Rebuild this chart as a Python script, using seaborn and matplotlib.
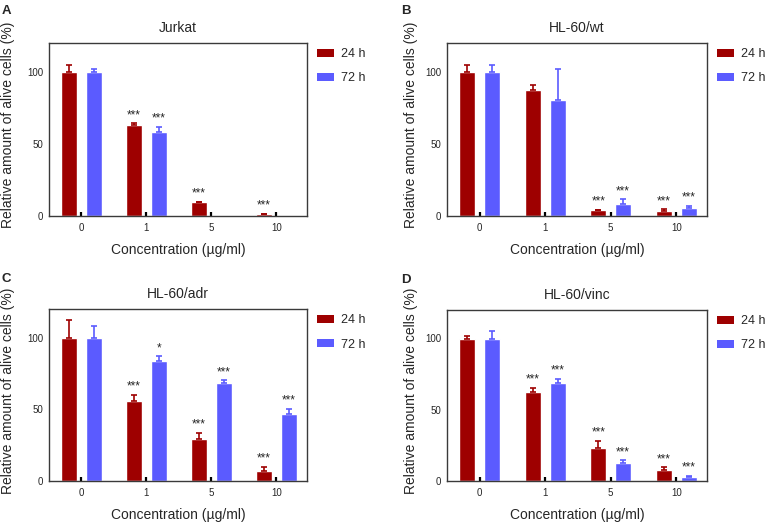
import numpy as np
import pandas as pd
import matplotlib
matplotlib.use("Agg")
import matplotlib.pyplot as plt
import seaborn as sns
from matplotlib.patches import Patch

# data
conc_labels = ["0", "1", "5", "10"]
time_labels = ["24 h", "72 h"]
panel_letters = ["A", "B", "C", "D"]
panel_titles = ["Jurkat", "HL-60/wt", "HL-60/adr", "HL-60/vinc"]

jurkat_24 = [100, 63.3, 9.5, 1.2]
jurkat_24_err = [4.4, 1.0, 0.5, 0.3]
jurkat_72 = [100, 58.0, 0, 0]
jurkat_72_err = [2.3, 4.0, 0, 0]
jurkat_24_sig = ["", "***", "***", "***"]
jurkat_72_sig = ["", "***", "", ""]

wt_24 = [100, 87.2, 3.9, 3.7]
wt_24_err = [4.4, 3.7, 0.4, 0.9]
wt_72 = [100, 80.7, 8.4, 5.6]
wt_72_err = [4.5, 21.0, 3.2, 1.6]
wt_24_sig = ["", "", "***", "***"]
wt_72_sig = ["", "", "***", "***"]

adr_24 = [100, 56.0, 29.3, 7.0]
adr_24_err = [12.0, 4.0, 4.4, 3.0]
adr_72 = [100, 83.5, 68.4, 46.7]
adr_72_err = [8.0, 3.5, 2.0, 3.5]
adr_24_sig = ["", "***", "***", "***"]
adr_72_sig = ["", "*", "***", "***"]

vinc_24 = [100, 62.6, 23.3, 7.4]
vinc_24_err = [2.0, 2.8, 4.8, 2.1]
vinc_72 = [100, 68.8, 12.3, 2.6]
vinc_72_err = [5.0, 2.8, 2.1, 0.9]
vinc_24_sig = ["", "***", "***", "***"]
vinc_72_sig = ["", "***", "***", "***"]

panels = [
    (jurkat_24, jurkat_24_err, jurkat_24_sig, jurkat_72, jurkat_72_err, jurkat_72_sig),
    (wt_24, wt_24_err, wt_24_sig, wt_72, wt_72_err, wt_72_sig),
    (adr_24, adr_24_err, adr_24_sig, adr_72, adr_72_err, adr_72_sig),
    (vinc_24, vinc_24_err, vinc_24_sig, vinc_72, vinc_72_err, vinc_72_sig),
]

colors = ["#9E0000", "#5B5BFF"]

sns.set_style("ticks")
plt.rcParams["font.family"] = ["Liberation Sans", "DejaVu Sans"]

W, H = 768, 523
fig = plt.figure(figsize=(W / 100, H / 100), dpi=100)

# axes boxes in pixels: left, top, right, bottom
boxes = [(49, 43, 307, 216), (447, 43, 707, 216), (49, 309, 307, 481), (447, 310, 707, 481)]
letter_pos = [(2, 11), (401, 11), (2, 279), (401, 280)]
ylab_x = [-0.132, -0.113, -0.132, -0.113]

for i in range(4):
    l, t, r, b = boxes[i]
    ax = fig.add_axes([l / W, 1 - b / H, (r - l) / W, (b - t) / H])
    v24, e24, s24, v72, e72, s72 = panels[i]
    df = pd.DataFrame({
        "conc": conc_labels * 2,
        "time": [time_labels[0]] * 4 + [time_labels[1]] * 4,
        "value": v24 + v72,
    })
    sns.barplot(data=df, x="conc", y="value", hue="time", order=conc_labels,
                hue_order=time_labels, palette=colors, saturation=1,
                width=0.76, gap=0.37, errorbar=None, legend=False, ax=ax)

    for cont, vals, errs, sigs, col in zip(ax.containers, [v24, v72], [e24, e72], [s24, s72], colors):
        xs = [bar.get_x() + bar.get_width() / 2 for bar in cont]
        keep = [k for k in range(4) if vals[k] > 0]
        ax.errorbar([xs[k] for k in keep], [vals[k] for k in keep],
                    yerr=[[0] * len(keep), [errs[k] for k in keep]],
                    fmt="none", ecolor=col, elinewidth=1.2, capsize=2.5, capthick=1.2, zorder=3)
        for k in range(4):
            if sigs[k]:
                ax.text(xs[k], vals[k] + errs[k] + 1.5, sigs[k], ha="center", va="bottom", fontsize=8.5)

    ax.set_ylim(0, 120)
    ax.set_xlim(-0.5, 3.47)
    ax.set_yticks([0, 50, 100])
    ax.tick_params(axis="x", direction="in", length=3, width=1.6, color="black", labelsize=7, pad=5)
    ax.tick_params(axis="y", length=0, labelsize=7, pad=4)
    for sp in ax.spines.values():
        sp.set_visible(True)
        sp.set_color("#3a3a3a")
        sp.set_linewidth(1.0)

    ax.set_title(panel_titles[i], fontsize=10, pad=8)
    ax.set_xlabel("Concentration (µg/ml)", fontsize=10, labelpad=7)
    ax.set_ylabel("Relative amount of alive cells (%)", fontsize=10)
    ax.yaxis.set_label_coords(ylab_x[i], 0.525)

    handles = [Patch(facecolor=c, edgecolor="none") for c in colors]
    ax.legend(handles, time_labels, loc="upper left", bbox_to_anchor=(1.018, 1.0),
              frameon=False, fontsize=9, handlelength=1.35, handleheight=0.6,
              labelspacing=1.0, handletextpad=0.6, borderaxespad=0)

    lx, ly = letter_pos[i]
    fig.text(lx / W, 1 - ly / H, panel_letters[i], fontsize=9.5, fontweight="bold", ha="left", va="center")

fig.savefig("out.png", dpi=100)
